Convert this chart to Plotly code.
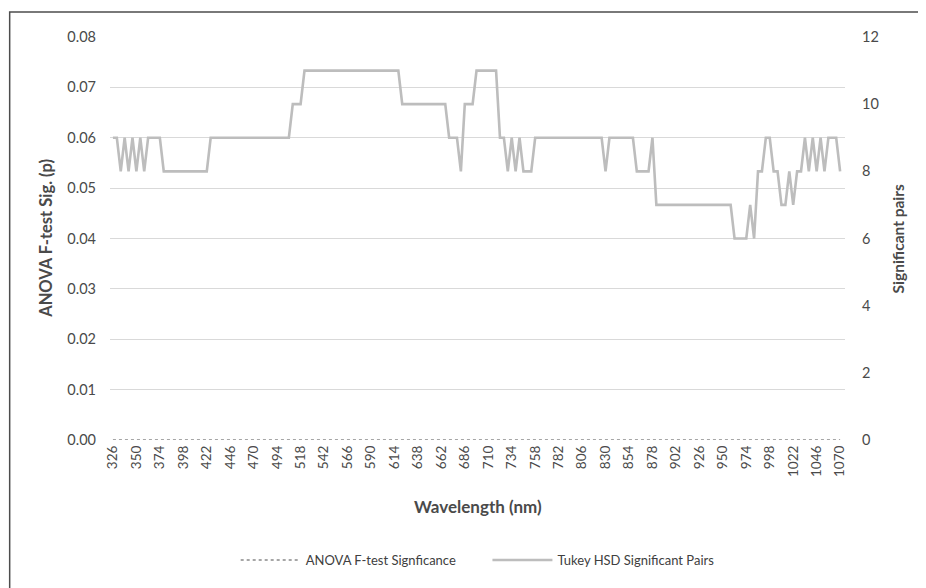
import plotly.graph_objects as go

# Wavelength categories (nm), 4 nm step
wavelengths = list(range(326, 1071, 4))

# Tukey HSD significant pairs
tukey_pairs = [
    9, 9, 8, 9, 8, 9, 8, 9, 8, 9, 9, 9, 9, 8,
    8, 8, 8, 8, 8, 8, 8, 8, 8, 8, 8,
    9, 9, 9, 9, 9, 9, 9, 9, 9, 9, 9, 9, 9, 9, 9, 9, 9, 9, 9, 9, 9,
    10, 10, 10,
    11, 11, 11, 11, 11, 11, 11, 11, 11, 11, 11, 11, 11, 11, 11, 11, 11, 11, 11, 11, 11, 11, 11, 11, 11,
    10, 10, 10, 10, 10, 10, 10, 10, 10, 10, 10, 10,
    9, 9, 9,
    8,
    10, 10, 10,
    11, 11, 11, 11, 11, 11,
    9, 9, 8, 9, 8, 9, 8, 8, 8,
    9, 9, 9, 9, 9, 9, 9, 9, 9, 9, 9, 9, 9, 9, 9, 9, 9, 9,
    8,
    9, 9, 9, 9, 9, 9, 9,
    8, 8, 8, 8,
    9,
    7, 7, 7, 7, 7, 7, 7, 7, 7, 7, 7, 7, 7, 7, 7, 7, 7, 7, 7, 7,
    6, 6, 6, 6, 7, 6, 8, 8, 9, 9, 8, 8, 7, 7, 8, 7, 8, 8, 9, 8, 9, 8, 9, 8, 9, 9, 9, 8,
]

# ANOVA F-test significance (p), all ~0.00
anova_p = [
    0.0, 0.0, 0.0, 0.0, 0.0, 0.0, 0.0, 0.0, 0.0, 0.0, 0.0, 0.0, 0.0, 0.0, 0.0, 0.0, 0.0,
    0.0, 0.0, 0.0, 0.0, 0.0, 0.0, 0.0, 0.0, 0.0, 0.0, 0.0, 0.0, 0.0, 0.0, 0.0, 0.0, 0.0,
    0.0, 0.0, 0.0, 0.0, 0.0, 0.0, 0.0, 0.0, 0.0, 0.0, 0.0, 0.0, 0.0, 0.0, 0.0, 0.0, 0.0,
    0.0, 0.0, 0.0, 0.0, 0.0, 0.0, 0.0, 0.0, 0.0, 0.0, 0.0, 0.0, 0.0, 0.0, 0.0, 0.0, 0.0,
    0.0, 0.0, 0.0, 0.0, 0.0, 0.0, 0.0, 0.0, 0.0, 0.0, 0.0, 0.0, 0.0, 0.0, 0.0, 0.0, 0.0,
    0.0, 0.0, 0.0, 0.0, 0.0, 0.0, 0.0, 0.0, 0.0, 0.0, 0.0, 0.0, 0.0, 0.0, 0.0, 0.0, 0.0,
    0.0, 0.0, 0.0, 0.0, 0.0, 0.0, 0.0, 0.0, 0.0, 0.0, 0.0, 0.0, 0.0, 0.0, 0.0, 0.0, 0.0,
    0.0, 0.0, 0.0, 0.0, 0.0, 0.0, 0.0, 0.0, 0.0, 0.0, 0.0, 0.0, 0.0, 0.0, 0.0, 0.0, 0.0,
    0.0, 0.0, 0.0, 0.0, 0.0, 0.0, 0.0, 0.0, 0.0, 0.0, 0.0, 0.0, 0.0, 0.0, 0.0, 0.0, 0.0,
    0.0, 0.0, 0.0, 0.0, 0.0, 0.0, 0.0, 0.0, 0.0, 0.0, 0.0, 0.0, 0.0, 0.0, 0.0, 0.0, 0.0,
    0.0, 0.0, 0.0, 0.0, 0.0, 0.0, 0.0, 0.0, 0.0, 0.0, 0.0, 0.0, 0.0, 0.0, 0.0, 0.0, 0.0,
]

x_tick_labels = [326, 350, 374, 398, 422, 446, 470, 494, 518, 542, 566, 590, 614, 638,
                 662, 686, 710, 734, 758, 782, 806, 830, 854, 878, 902, 926, 950, 974,
                 998, 1022, 1046, 1070]
left_ticks = [0.00, 0.01, 0.02, 0.03, 0.04, 0.05, 0.06, 0.07, 0.08]
right_ticks = [0, 2, 4, 6, 8, 10, 12]

FONT = "Lato"
TXT = "#4A4A4A"
GRID = "#D9D9D9"
PAD = "\u00a0" * 8

fig = go.Figure()
fig.add_trace(go.Scatter(
    x=wavelengths, y=anova_p, mode="lines", name="ANOVA F-test Signficance" + PAD,
    line=dict(color="#A6A6A6", width=2, dash="dot"), yaxis="y",
))
fig.add_trace(go.Scatter(
    x=wavelengths, y=tukey_pairs, mode="lines", name="Tukey HSD Significant Pairs",
    line=dict(color="#BDBDBD", width=2.6), yaxis="y2",
))

# page body has an 8px default margin: compensate so the plot area sits at x 110-845, y 37-440
fig.update_layout(
    width=918, height=580,
    margin=dict(l=102, r=81, t=29, b=148, autoexpand=False),
    paper_bgcolor="white", plot_bgcolor="white",
    font=dict(family=FONT, size=13, color=TXT),
    showlegend=True,
    legend=dict(orientation="h", x=0.171, y=-0.298, xanchor="left", yanchor="middle",
                font=dict(family=FONT, size=13, color="#404040"),
                itemwidth=60, tracegroupgap=0),
    xaxis=dict(
        range=[323, 1075], tickmode="array", tickvals=x_tick_labels,
        ticktext=[str(v) for v in x_tick_labels], tickangle=-90,
        showgrid=False, zeroline=False, showline=False, automargin=False,
        tickfont=dict(family=FONT, size=13.5, color=TXT), ticklabelstandoff=2,
    ),
    yaxis=dict(
        range=[0, 0.08], tickmode="array", tickvals=left_ticks,
        ticktext=[f"{v:.2f}" for v in left_ticks], automargin=False,
        showgrid=True, gridcolor=GRID, gridwidth=1, zeroline=False, showline=False,
        tickfont=dict(family=FONT, size=14.5, color=TXT), ticklabelstandoff=13,
    ),
    yaxis2=dict(
        range=[0, 12], tickmode="array", tickvals=right_ticks, automargin=False,
        overlaying="y", side="right", showgrid=False, zeroline=False, showline=False,
        tickfont=dict(family=FONT, size=14.5, color=TXT), ticklabelstandoff=16,
    ),
    annotations=[
        dict(text="<b>Wavelength (nm)</b>", xref="paper", yref="paper", x=0.5, y=-0.164,
             showarrow=False, font=dict(family=FONT, size=17, color=TXT),
             xanchor="center", yanchor="middle"),
        dict(text="<b>ANOVA F-test Sig. (p)</b>", xref="paper", yref="paper", x=-0.088, y=0.5,
             textangle=-90, showarrow=False, font=dict(family=FONT, size=16.5, color=TXT),
             xanchor="center", yanchor="middle"),
        dict(text="<b>Significant pairs</b>", xref="paper", yref="paper", x=1.072, y=0.5,
             textangle=-90, showarrow=False, font=dict(family=FONT, size=15.5, color=TXT),
             xanchor="center", yanchor="middle"),
    ],
    shapes=[
        dict(type="rect", xref="paper", yref="paper", x0=-0.1365, x1=1.2, y0=-0.5, y1=1.062,
             line=dict(color="#4D4D4D", width=1.5), fillcolor="rgba(0,0,0,0)", layer="below"),
    ],
)

fig.write_html("out.html")
